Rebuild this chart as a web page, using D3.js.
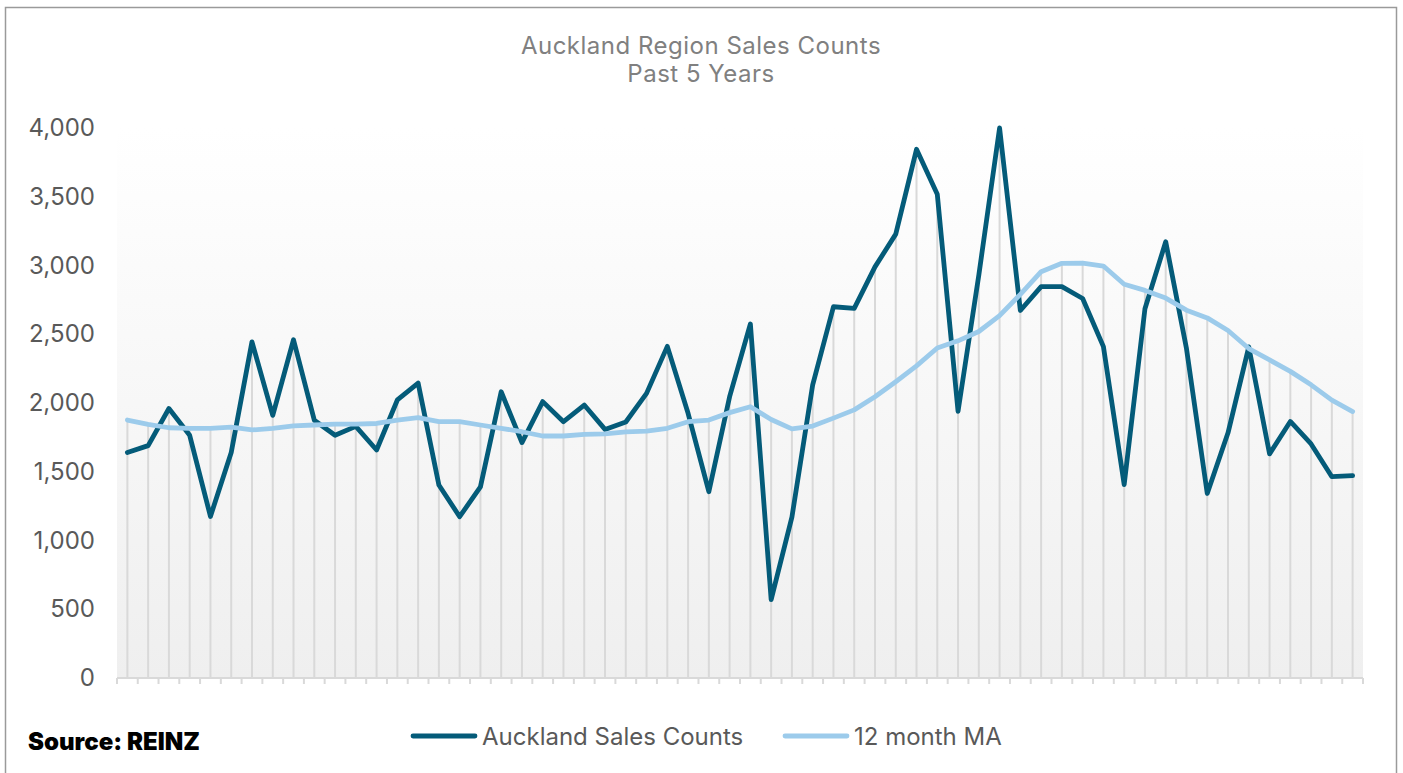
<!DOCTYPE html>
<html>
<head>
<meta charset="utf-8">
<script src="https://cdn.jsdelivr.net/npm/d3@7"></script>
<style>
  html, body { margin: 0; padding: 0; background: #fff; }
  svg { display: block; font-family: Inter, "Noto Sans", sans-serif; }
</style>
</head>
<body>
<svg id="chart" width="1403" height="773"></svg>
<script>
// Auckland sales counts, monthly, past 5 years
const sales = [1640, 1690, 1960, 1765, 1175, 1640, 2445, 1910, 2460, 1875,
  1765, 1830, 1658, 2022, 2145, 1404, 1173, 1390, 2082, 1712,
  2010, 1864, 1985, 1808, 1862, 2070, 2412, 1925, 1355, 2046,
  2575, 570, 1170, 2132, 2700, 2688, 2990, 3228, 3845, 3518,
  1940, 2930, 4000, 2673, 2846, 2846, 2760, 2410, 1407, 2685,
  3173, 2396, 1342, 1783, 2408, 1630, 1866, 1702, 1464, 1472]

const ma12 = [1876, 1845, 1820, 1815, 1815, 1825, 1804, 1815, 1833, 1840,
  1847, 1847, 1851, 1876, 1893, 1864, 1864, 1840, 1816, 1791,
  1760, 1760, 1772, 1775, 1790, 1795, 1816, 1864, 1876, 1930,
  1973, 1880, 1812, 1832, 1890, 1950, 2045, 2155, 2270, 2400,
  2452, 2520, 2635, 2790, 2955, 3016, 3018, 2996, 2864, 2819,
  2763, 2675, 2619, 2527, 2396, 2313, 2230, 2132, 2021, 1938]

// one category per month (no labels shown on the axis)
const months = sales.map((_, i) => i)

const yTicks = [0, 500, 1000, 1500, 2000, 2500, 3000, 3500, 4000]
const titleLines = ['Auckland Region Sales Counts', 'Past 5 Years']
const seriesNames = ['Auckland Sales Counts', '12 month MA']
const seriesColors = ['#045b79', '#9ccbeb']

// ---------------------------------------------------------------
const svg = d3.select('#chart')
const plot = { left: 117, right: 1363, top: 128, bottom: 678 }

const x = d3.scaleBand().domain(months).range([plot.left, plot.right])
const cx = i => x(i) + x.bandwidth() / 2
const y = d3.scaleLinear().domain([0, 4000]).range([plot.bottom, plot.top])

// outer frame
svg.append('rect')
  .attr('x', 5.5).attr('y', 7.5).attr('width', 1391).attr('height', 790)
  .attr('fill', '#fff').attr('stroke', '#9a9a9a').attr('stroke-width', 1.5)

// plot area gradient
const grad = svg.append('defs').append('linearGradient')
  .attr('id', 'bg').attr('x1', 0).attr('y1', 0).attr('x2', 0).attr('y2', 1)
grad.append('stop').attr('offset', '0%').attr('stop-color', '#ffffff')
grad.append('stop').attr('offset', '100%').attr('stop-color', '#efefef')

svg.append('rect')
  .attr('x', plot.left).attr('y', plot.top)
  .attr('width', plot.right - plot.left).attr('height', plot.bottom - plot.top)
  .attr('fill', 'url(#bg)')

// title
svg.append('g').selectAll('text').data(titleLines).join('text')
  .attr('x', 701).attr('y', (d, i) => 54 + i * 28)
  .attr('text-anchor', 'middle')
  .style('font-size', '24px').style('letter-spacing', '0.5px').style('fill', '#808080')
  .text(d => d)

// drop lines, up to the higher of the two series
svg.append('g').selectAll('line').data(months).join('line')
  .attr('x1', cx).attr('x2', cx)
  .attr('y1', y(0))
  .attr('y2', i => y(Math.max(sales[i], ma12[i])))
  .attr('stroke', '#d9d9d9').attr('stroke-width', 2)

// x axis line + boundary ticks
const gx = svg.append('g')
gx.append('line')
  .attr('x1', plot.left).attr('x2', plot.right)
  .attr('y1', y(0)).attr('y2', y(0))
  .attr('stroke', '#d9d9d9').attr('stroke-width', 2)
gx.selectAll('.tk').data(months.concat([months.length])).join('line')
  .attr('class', 'tk')
  .attr('x1', i => i < months.length ? x(i) : plot.right)
  .attr('x2', i => i < months.length ? x(i) : plot.right)
  .attr('y1', y(0)).attr('y2', y(0) + 6)
  .attr('stroke', '#d9d9d9').attr('stroke-width', 2)

// y axis labels
const gy = svg.append('g')
  .attr('transform', `translate(${plot.left},0)`)
  .call(d3.axisLeft(y).tickValues(yTicks).tickFormat(d3.format(',')).tickSize(0).tickPadding(22))
gy.select('.domain').remove()
gy.selectAll('text')
  .style('font-size', '24px').style('fill', '#595959')
  .style('font-family', 'Inter, "Noto Sans", sans-serif')

// series lines
const line = d3.line().x((d, i) => cx(i)).y(d => y(d))
;[sales, ma12].forEach((vals, k) => {
  svg.append('path')
    .datum(vals)
    .attr('d', line)
    .attr('fill', 'none')
    .attr('stroke', seriesColors[k])
    .attr('stroke-width', 4.8)
    .attr('stroke-linejoin', 'round')
    .attr('stroke-linecap', 'round')
})

// legend
const legendX = [413, 785]
const lg = svg.append('g').selectAll('g').data(seriesNames).join('g')
  .attr('transform', (d, i) => `translate(${legendX[i]},736)`)
lg.append('line')
  .attr('x1', 0).attr('x2', 62).attr('y1', 0).attr('y2', 0)
  .attr('stroke', (d, i) => seriesColors[i]).attr('stroke-width', 4.8)
  .attr('stroke-linecap', 'round')
lg.append('text')
  .attr('x', 69).attr('y', 9)
  .style('font-size', '24px').style('fill', '#595959')
  .text(d => d)

// source note
svg.append('text')
  .attr('x', 28).attr('y', 750)
  .style('font-size', '24px').style('font-weight', 900).style('fill', '#000')
  .text('Source: REINZ')
</script>
</body>
</html>
